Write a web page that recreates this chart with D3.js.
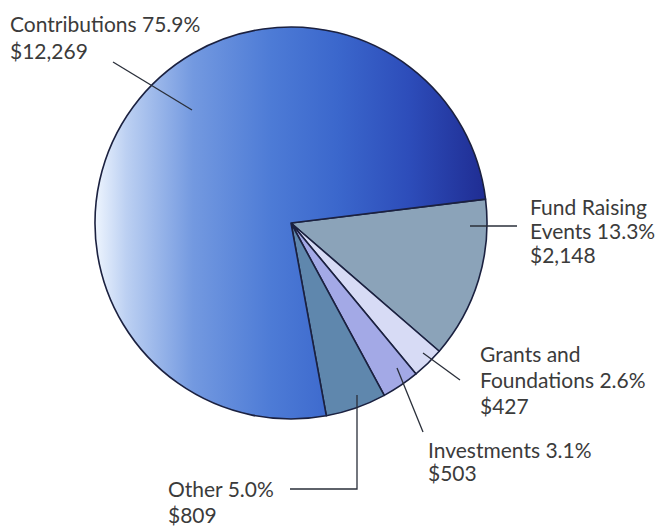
<!DOCTYPE html>
<html>
<head>
<meta charset="utf-8">
<script src="https://cdn.jsdelivr.net/npm/d3@7"></script>
<style>
  body { margin: 0; background: #fff; }
  text { font-family: Lato, "Open Sans", sans-serif; fill: #3b3b3b; }
</style>
</head>
<body>
<div id="wrapper"></div>
<script>
// data (clockwise, starting at Fund Raising)
let categories = ["Fund Raising Events", "Grants and Foundations", "Investments", "Other", "Contributions"]
let amounts = [2148, 427, 503, 809, 12269]
let percents = ["13.3%", "2.6%", "3.1%", "5.0%", "75.9%"]

// label text lines per slice
let labelLines = [
    ["Fund Raising", "Events 13.3%", "$2,148"],
    ["Grants and", "Foundations 2.6%", "$427"],
    ["Investments 3.1%", "$503"],
    ["Other 5.0%", "$809"],
    ["Contributions 75.9%", "$12,269"]
]

function drawPie() {
    let dimensions = {
        width: 663,
        height: 526,
        cx: 291,
        cy: 223,
        radius: 196
    }

    let svg = d3.select("#wrapper")
        .append("svg")
        .attr("width", dimensions.width)
        .attr("height", dimensions.height)

    // gradient for the big slice (coords are local to the pie group)
    let defs = svg.append("defs")
    let grad = defs.append("linearGradient")
        .attr("id", "contribGrad")
        .attr("gradientUnits", "userSpaceOnUse")
        .attr("x1", -dimensions.radius).attr("y1", 0)
        .attr("x2", dimensions.radius).attr("y2", 0)
    let stops = [
        [0, "#eef5fe"],
        [0.08, "#bcd0f2"],
        [0.25, "#7399e0"],
        [0.45, "#4d7bd6"],
        [0.62, "#3b67cc"],
        [0.8, "#2d4dba"],
        [1, "#1f2c92"]
    ]
    grad.selectAll("stop")
        .data(stops)
        .enter()
        .append("stop")
        .attr("offset", d => d[0])
        .attr("stop-color", d => d[1])

    let color = d3.scaleOrdinal()
        .domain(categories)
        .range(["#8ba3b9", "#d7dbf5", "#a3a9e6", "#5f87ad", "url(#contribGrad)"])

    let start = 83 * Math.PI / 180
    let pie = d3.pie()
        .sort(null)
        .value(d => d.amount)
        .startAngle(start)
        .endAngle(start + 2 * Math.PI)

    let data = categories.map((c, i) => ({ name: c, amount: amounts[i], pct: percents[i] }))

    let arc = d3.arc()
        .innerRadius(0)
        .outerRadius(dimensions.radius)

    let g = svg.append("g")
        .attr("transform", "translate(" + dimensions.cx + "," + dimensions.cy + ")")

    g.selectAll("path")
        .data(pie(data))
        .enter()
        .append("path")
        .attr("d", arc)
        .attr("fill", d => color(d.data.name))
        .attr("stroke", "#1b2140")
        .attr("stroke-width", 1.6)
        .attr("stroke-linejoin", "round")

    // label layout: text position and leader polyline (page coords)
    let layout = [
        { x: 530, y: 215, lh: 24, lead: [[470, 226], [517, 226]] },
        { x: 480, y: 362, lh: 26, lead: [[423, 353], [460, 380]] },
        { x: 428, y: 458, lh: 23, lead: [[397, 368], [423, 432]] },
        { x: 168, y: 497, lh: 26, lead: [[357, 395], [357, 489], [290, 489]] },
        { x: 10, y: 32, lh: 27, lead: [[192, 110], [113, 62]] }
    ]

    let line = d3.line()

    svg.append("g")
        .selectAll("path")
        .data(layout)
        .enter()
        .append("path")
        .attr("d", d => line(d.lead))
        .attr("fill", "none")
        .attr("stroke", "#2a2f3a")
        .attr("stroke-width", 1.3)

    let labels = svg.append("g")
        .selectAll("text")
        .data(layout)
        .enter()
        .append("text")
        .attr("x", d => d.x)
        .attr("y", d => d.y)
        .style("font-size", "21px")

    labels.each(function(d, i) {
        d3.select(this).selectAll("tspan")
            .data(labelLines[i])
            .enter()
            .append("tspan")
            .attr("x", d.x)
            .attr("dy", (t, j) => j == 0 ? 0 : d.lh)
            .text(t => t)
    })
}

drawPie();
</script>
</body>
</html>
